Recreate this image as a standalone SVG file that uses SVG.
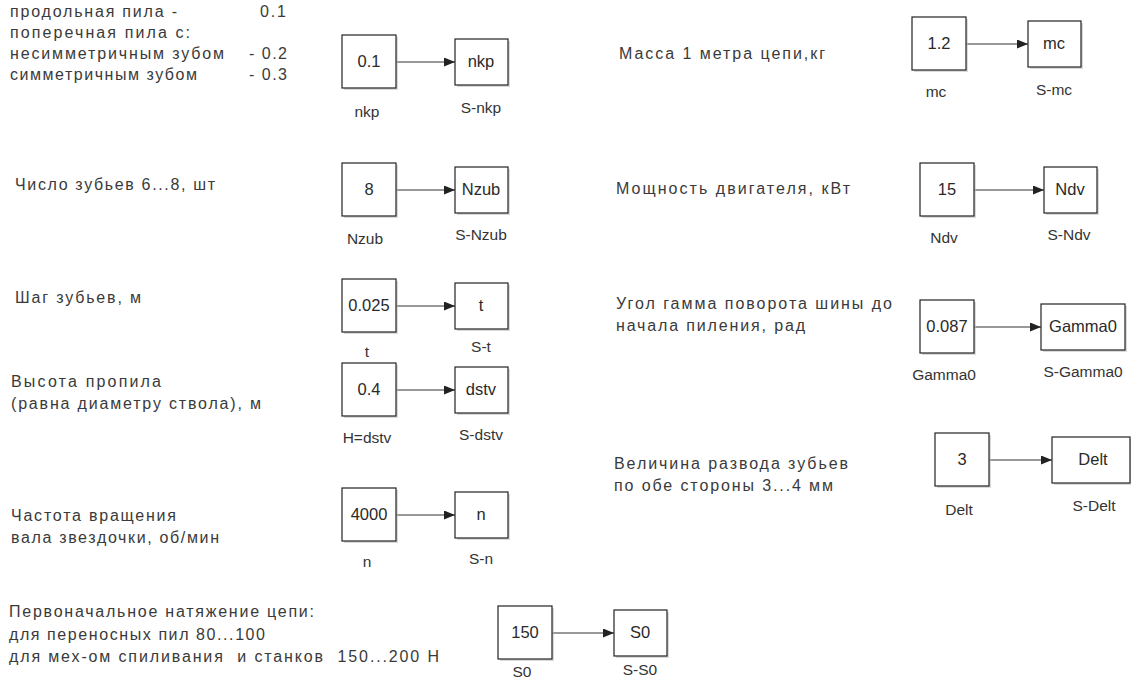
<svg xmlns="http://www.w3.org/2000/svg" width="1131" height="681" viewBox="0 0 1131 681">
<defs>
<marker id="arr" markerWidth="11" markerHeight="9" refX="11" refY="4.5" orient="auto" markerUnits="userSpaceOnUse">
<path d="M0,0 L11,4.5 L0,9 Z" fill="#222"/>
</marker>
</defs>
<style>
.d{font-family:"Liberation Sans",Arial,sans-serif;font-size:16px;fill:#3a3a3a}
.v{font-family:"Liberation Sans",Arial,sans-serif;font-size:16.5px;fill:#2a2a2a;text-anchor:middle}
.l{font-family:"Liberation Sans",Arial,sans-serif;font-size:15.5px;fill:#333;text-anchor:middle}
.b{fill:#fff;stroke:#222;stroke-width:1.2}
.sh{fill:#bbb;opacity:0.55}
.c{stroke:#333;stroke-width:1;fill:none;marker-end:url(#arr)}
</style>
<rect width="1131" height="681" fill="#fff"/>
<g id="texts">
<text class="d" x="10" y="17" textLength="167" lengthAdjust="spacing">продольная пила -</text>
<text class="d" x="260" y="17" textLength="26" lengthAdjust="spacing">0.1</text>
<text class="d" x="10" y="38" textLength="180" lengthAdjust="spacing">поперечная пила с:</text>
<text class="d" x="10" y="59" textLength="214" lengthAdjust="spacing">несимметричным зубом</text>
<text class="d" x="249" y="59" textLength="38" lengthAdjust="spacing">- 0.2</text>
<text class="d" x="10" y="80" textLength="187" lengthAdjust="spacing">симметричным зубом</text>
<text class="d" x="249" y="80" textLength="38" lengthAdjust="spacing">- 0.3</text>
<text class="d" x="15" y="190" textLength="200" lengthAdjust="spacing">Число зубьев 6...8, шт</text>
<text class="d" x="15" y="303" textLength="126" lengthAdjust="spacing">Шаг зубьев, м</text>
<text class="d" x="11" y="387" textLength="150" lengthAdjust="spacing">Высота пропила</text>
<text class="d" x="11" y="409" textLength="250" lengthAdjust="spacing">(равна диаметру ствола), м</text>
<text class="d" x="11" y="521" textLength="165" lengthAdjust="spacing">Частота вращения</text>
<text class="d" x="11" y="543" textLength="208" lengthAdjust="spacing">вала звездочки, об/мин</text>
<text class="d" x="9" y="617" textLength="305" lengthAdjust="spacing">Первоначальное натяжение цепи:</text>
<text class="d" x="9" y="640" textLength="256" lengthAdjust="spacing">для переносных пил 80...100</text>
<text class="d" x="9" y="662" textLength="430" lengthAdjust="spacing" xml:space="preserve">для мех-ом спиливания  и станков  150...200 Н</text>
<text class="d" x="619" y="59" textLength="206" lengthAdjust="spacing">Масса 1 метра цепи,кг</text>
<text class="d" x="616" y="194" textLength="234" lengthAdjust="spacing">Мощность двигателя, кВт</text>
<text class="d" x="616" y="309" textLength="276" lengthAdjust="spacing">Угол гамма поворота шины до</text>
<text class="d" x="616" y="331" textLength="189" lengthAdjust="spacing">начала пиления, рад</text>
<text class="d" x="614" y="469" textLength="234" lengthAdjust="spacing">Величина развода зубьев</text>
<text class="d" x="614" y="491" textLength="219" lengthAdjust="spacing">по обе стороны 3...4 мм</text>
</g>
<g id="connectors">
<line class="c" x1="396" y1="62" x2="455" y2="62"/>
<line class="c" x1="396" y1="190" x2="455" y2="190"/>
<line class="c" x1="396" y1="306" x2="455" y2="306"/>
<line class="c" x1="396" y1="390" x2="455" y2="390"/>
<line class="c" x1="396" y1="515" x2="455" y2="515"/>
<line class="c" x1="552" y1="633" x2="614" y2="633"/>
<line class="c" x1="966" y1="44" x2="1028" y2="44"/>
<line class="c" x1="974" y1="190" x2="1044" y2="190"/>
<line class="c" x1="974" y1="327" x2="1041" y2="327"/>
<line class="c" x1="989" y1="460" x2="1052" y2="460"/>
</g>
<g id="nkp"><rect class="sh" x="344" y="37" width="54" height="53"/><rect class="b" x="342" y="35" width="54" height="53"/><text class="v" x="369" y="67">0.1</text><text class="l" x="367" y="117">nkp</text></g>
<g id="S-nkp"><rect class="sh" x="457" y="41" width="53" height="46"/><rect class="b" x="455" y="39" width="53" height="46"/><text class="v" x="481" y="67">nkp</text><text class="l" x="481" y="113">S-nkp</text></g>
<g id="Nzub"><rect class="sh" x="344" y="165" width="54" height="53"/><rect class="b" x="342" y="163" width="54" height="53"/><text class="v" x="369" y="195">8</text><text class="l" x="365" y="244">Nzub</text></g>
<g id="S-Nzub"><rect class="sh" x="457" y="169" width="53" height="46"/><rect class="b" x="455" y="167" width="53" height="46"/><text class="v" x="481" y="195">Nzub</text><text class="l" x="481" y="240">S-Nzub</text></g>
<g id="t"><rect class="sh" x="344" y="281" width="54" height="53"/><rect class="b" x="342" y="279" width="54" height="53"/><text class="v" x="369" y="311">0.025</text><text class="l" x="367" y="357">t</text></g>
<g id="S-t"><rect class="sh" x="457" y="285" width="53" height="46"/><rect class="b" x="455" y="283" width="53" height="46"/><text class="v" x="481" y="311">t</text><text class="l" x="481" y="352">S-t</text></g>
<g id="dstv"><rect class="sh" x="344" y="365" width="54" height="53"/><rect class="b" x="342" y="363" width="54" height="53"/><text class="v" x="369" y="395">0.4</text><text class="l" x="367" y="443">H=dstv</text></g>
<g id="S-dstv"><rect class="sh" x="457" y="369" width="53" height="46"/><rect class="b" x="455" y="367" width="53" height="46"/><text class="v" x="481" y="395">dstv</text><text class="l" x="481" y="440">S-dstv</text></g>
<g id="n"><rect class="sh" x="344" y="490" width="54" height="53"/><rect class="b" x="342" y="488" width="54" height="53"/><text class="v" x="369" y="520">4000</text><text class="l" x="367" y="567">n</text></g>
<g id="S-n"><rect class="sh" x="457" y="494" width="53" height="46"/><rect class="b" x="455" y="492" width="53" height="46"/><text class="v" x="481" y="520">n</text><text class="l" x="481" y="564">S-n</text></g>
<g id="S0"><rect class="sh" x="500" y="608" width="54" height="53"/><rect class="b" x="498" y="606" width="54" height="53"/><text class="v" x="525" y="638">150</text><text class="l" x="522" y="677">S0</text></g>
<g id="S-S0"><rect class="sh" x="616" y="612" width="53" height="46"/><rect class="b" x="614" y="610" width="53" height="46"/><text class="v" x="640" y="638">S0</text><text class="l" x="640" y="675">S-S0</text></g>
<g id="mc"><rect class="sh" x="914" y="19" width="54" height="53"/><rect class="b" x="912" y="17" width="54" height="53"/><text class="v" x="939" y="49">1.2</text><text class="l" x="936" y="97">mc</text></g>
<g id="S-mc"><rect class="sh" x="1030" y="23" width="53" height="46"/><rect class="b" x="1028" y="21" width="53" height="46"/><text class="v" x="1054" y="49">mc</text><text class="l" x="1054" y="95">S-mc</text></g>
<g id="Ndv"><rect class="sh" x="922" y="165" width="54" height="53"/><rect class="b" x="920" y="163" width="54" height="53"/><text class="v" x="947" y="195">15</text><text class="l" x="944" y="243">Ndv</text></g>
<g id="S-Ndv"><rect class="sh" x="1046" y="169" width="53" height="46"/><rect class="b" x="1044" y="167" width="53" height="46"/><text class="v" x="1070" y="195">Ndv</text><text class="l" x="1069" y="240">S-Ndv</text></g>
<g id="Gamma0"><rect class="sh" x="922" y="302" width="54" height="53"/><rect class="b" x="920" y="300" width="54" height="53"/><text class="v" x="947" y="332">0.087</text><text class="l" x="944" y="380">Gamma0</text></g>
<g id="S-Gamma0"><rect class="sh" x="1043" y="306" width="84" height="46"/><rect class="b" x="1041" y="304" width="84" height="46"/><text class="v" x="1083" y="332">Gamma0</text><text class="l" x="1083" y="377">S-Gamma0</text></g>
<g id="Delt"><rect class="sh" x="937" y="435" width="54" height="53"/><rect class="b" x="935" y="433" width="54" height="53"/><text class="v" x="962" y="465">3</text><text class="l" x="959" y="515">Delt</text></g>
<g id="S-Delt"><rect class="sh" x="1054" y="439" width="80" height="46"/><rect class="b" x="1052" y="437" width="78" height="46"/><text class="v" x="1093" y="465">Delt</text><text class="l" x="1094" y="511">S-Delt</text></g>
</svg>
